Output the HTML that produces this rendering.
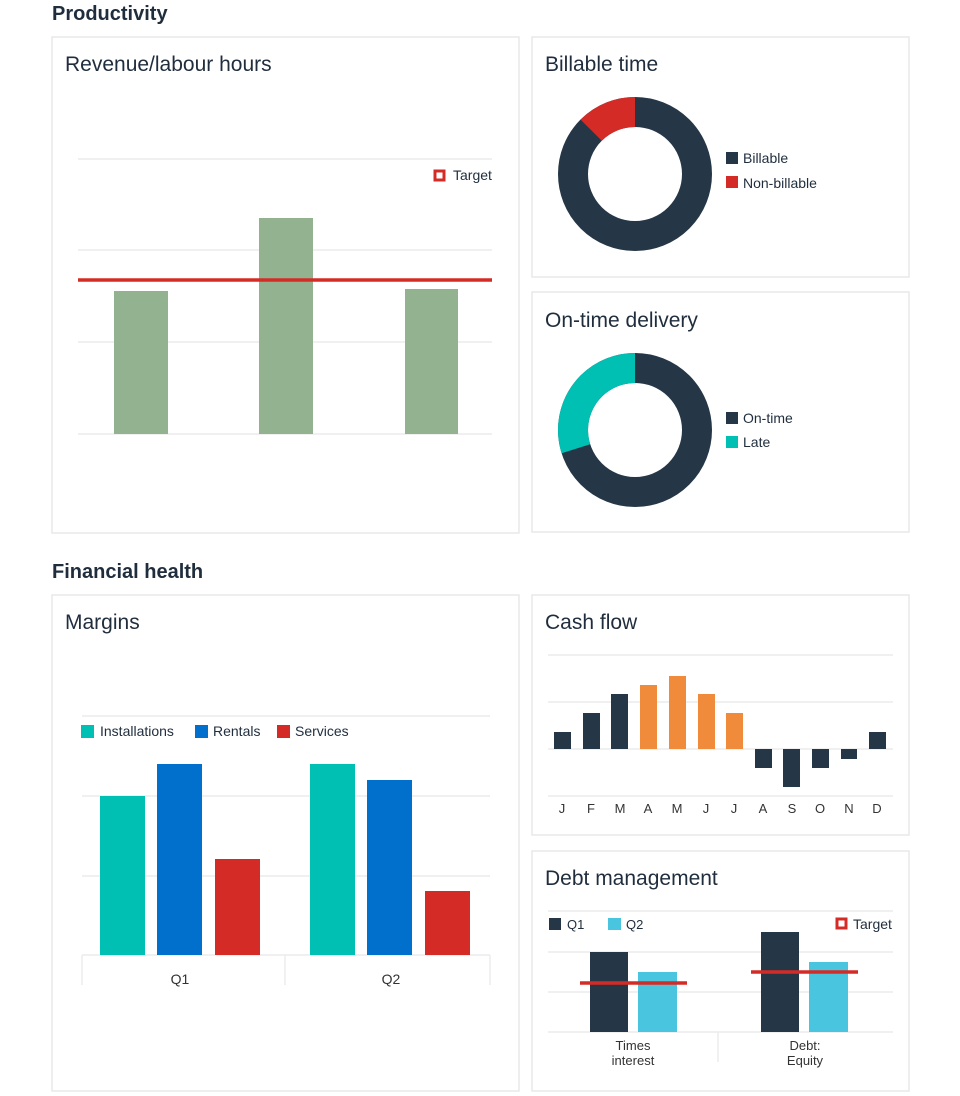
<!DOCTYPE html>
<html><head><meta charset="utf-8"><style>
body{margin:0;background:#fff;}
svg{display:block;font-family:"Liberation Sans",sans-serif;}
</style></head><body>
<svg width="960" height="1096" viewBox="0 0 960 1096">
<g fill="#fff" stroke="#e8e8e8" stroke-width="1.5">
<rect x="52" y="37" width="467" height="496"/>
<rect x="532" y="37" width="377" height="240"/>
<rect x="532" y="292" width="377" height="240"/>
<rect x="52" y="595" width="467" height="496"/>
<rect x="532" y="595" width="377" height="240"/>
<rect x="532" y="851" width="377" height="240"/>
</g>
<g fill="#1f2d3d" font-weight="bold" font-size="20">
<text x="52" y="20">Productivity</text>
<text x="52" y="578">Financial health</text>
</g>
<g fill="#1f2d3d" font-size="21">
<text x="65" y="71">Revenue/labour hours</text>
<text x="545" y="71">Billable time</text>
<text x="545" y="327">On-time delivery</text>
<text x="65" y="629">Margins</text>
<text x="545" y="629">Cash flow</text>
<text x="545" y="885">Debt management</text>
</g>
<g stroke="#ececec" stroke-width="1.5">
<line x1="78" y1="159" x2="492" y2="159"/><line x1="78" y1="250" x2="492" y2="250"/>
<line x1="78" y1="342" x2="492" y2="342"/><line x1="78" y1="434" x2="492" y2="434"/>
</g>
<g fill="#93b390">
<rect x="114" y="291" width="54" height="143"/><rect x="259" y="218" width="54" height="216"/><rect x="405" y="289" width="53" height="145"/>
</g>
<line x1="78" y1="280" x2="492" y2="280" stroke="#d52b26" stroke-width="3.5"/>
<rect x="435" y="171" width="9" height="9" fill="#fff" stroke="#d52b26" stroke-width="3"/>
<text x="453" y="180" font-size="14" fill="#1f2d3d">Target</text>
<circle cx="635" cy="174" r="62" fill="none" stroke="#253647" stroke-width="30"/>
<path d="M635 97 A77 77 0 0 0 580.6 119.6 L601.8 140.8 A47 47 0 0 1 635 127 Z" fill="#d52b26"/>
<rect x="726" y="152" width="12" height="12" fill="#253647"/><text x="743" y="163" font-size="14" fill="#1f2d3d">Billable</text>
<rect x="726" y="176" width="12" height="12" fill="#d52b26"/><text x="743" y="188" font-size="14" fill="#1f2d3d">Non-billable</text>
<circle cx="635" cy="430" r="62" fill="none" stroke="#253647" stroke-width="30"/>
<path d="M635 353 A77 77 0 0 0 561.6 453.2 L590.2 444.2 A47 47 0 0 1 635 383 Z" fill="#00bfb3"/>
<rect x="726" y="412" width="12" height="12" fill="#253647"/><text x="743" y="423" font-size="14" fill="#1f2d3d">On-time</text>
<rect x="726" y="436" width="12" height="12" fill="#00bfb3"/><text x="743" y="447" font-size="14" fill="#1f2d3d">Late</text>
<g stroke="#ececec" stroke-width="1.5">
<line x1="82" y1="716" x2="490" y2="716"/><line x1="82" y1="796" x2="490" y2="796"/>
<line x1="82" y1="876" x2="490" y2="876"/><line x1="82" y1="955" x2="490" y2="955"/>
<line x1="82" y1="955" x2="82" y2="985"/><line x1="285" y1="955" x2="285" y2="985"/><line x1="490" y1="955" x2="490" y2="985"/>
</g>
<rect x="81" y="725" width="13" height="13" fill="#00bfb3"/><text x="100" y="736" font-size="14" fill="#1f2d3d">Installations</text>
<rect x="195" y="725" width="13" height="13" fill="#0070cc"/><text x="213" y="736" font-size="14" fill="#1f2d3d">Rentals</text>
<rect x="277" y="725" width="13" height="13" fill="#d52b26"/><text x="295" y="736" font-size="14" fill="#1f2d3d">Services</text>
<rect x="100" y="796" width="45" height="159" fill="#00bfb3"/>
<rect x="157" y="764" width="45" height="191" fill="#0070cc"/>
<rect x="215" y="859" width="45" height="96" fill="#d52b26"/>
<rect x="310" y="764" width="45" height="191" fill="#00bfb3"/>
<rect x="367" y="780" width="45" height="175" fill="#0070cc"/>
<rect x="425" y="891" width="45" height="64" fill="#d52b26"/>
<text x="180" y="984" font-size="14" fill="#333" text-anchor="middle">Q1</text>
<text x="391" y="984" font-size="14" fill="#333" text-anchor="middle">Q2</text>
<g stroke="#ececec" stroke-width="1.5">
<line x1="548" y1="655" x2="893" y2="655"/><line x1="548" y1="702" x2="893" y2="702"/>
<line x1="548" y1="749" x2="893" y2="749"/><line x1="548" y1="796" x2="893" y2="796"/>
</g>
<g fill="#253647">
<rect x="554" y="732" width="17" height="17"/><rect x="583" y="713" width="17" height="36"/><rect x="611" y="694" width="17" height="55"/>
<rect x="755" y="749" width="17" height="19"/><rect x="783" y="749" width="17" height="38"/><rect x="812" y="749" width="17" height="19"/>
<rect x="841" y="749" width="16" height="10"/><rect x="869" y="732" width="17" height="17"/>
</g>
<g fill="#ef8b3a">
<rect x="640" y="685" width="17" height="64"/><rect x="669" y="676" width="17" height="73"/><rect x="698" y="694" width="17" height="55"/><rect x="726" y="713" width="17" height="36"/>
</g>
<g font-size="13" fill="#333" text-anchor="middle">
<text x="562" y="813">J</text><text x="591" y="813">F</text><text x="620" y="813">M</text><text x="648" y="813">A</text>
<text x="677" y="813">M</text><text x="706" y="813">J</text><text x="734" y="813">J</text><text x="763" y="813">A</text>
<text x="792" y="813">S</text><text x="820" y="813">O</text><text x="849" y="813">N</text><text x="877" y="813">D</text>
</g>
<g stroke="#ececec" stroke-width="1.5">
<line x1="548" y1="911" x2="893" y2="911"/><line x1="548" y1="952" x2="893" y2="952"/>
<line x1="548" y1="992" x2="893" y2="992"/><line x1="548" y1="1032" x2="893" y2="1032"/>
<line x1="718" y1="1032" x2="718" y2="1062"/>
</g>
<rect x="549" y="918" width="12" height="12" fill="#253647"/><text x="567" y="929" font-size="13" fill="#1f2d3d">Q1</text>
<rect x="608" y="918" width="13" height="12" fill="#4ac5e0"/><text x="626" y="929" font-size="13" fill="#1f2d3d">Q2</text>
<rect x="837" y="919" width="9" height="9" fill="#fff" stroke="#d52b26" stroke-width="3"/><text x="853" y="929" font-size="14" fill="#1f2d3d">Target</text>
<rect x="590" y="952" width="38" height="80" fill="#253647"/>
<rect x="638" y="972" width="39" height="60" fill="#4ac5e0"/>
<rect x="761" y="932" width="38" height="100" fill="#253647"/>
<rect x="809" y="962" width="39" height="70" fill="#4ac5e0"/>
<line x1="580" y1="983" x2="687" y2="983" stroke="#d52b26" stroke-width="3.5"/>
<line x1="751" y1="972" x2="858" y2="972" stroke="#d52b26" stroke-width="3.5"/>
<g font-size="13" fill="#333" text-anchor="middle">
<text x="633" y="1050">Times</text><text x="633" y="1065">interest</text>
<text x="805" y="1050">Debt:</text><text x="805" y="1065">Equity</text>
</g>
</svg>
</body></html>
